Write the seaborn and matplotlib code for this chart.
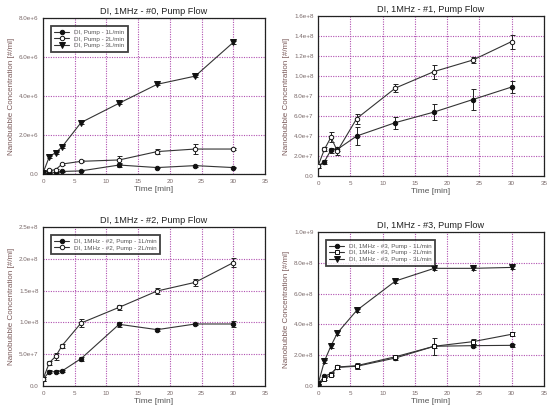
import numpy as np
import pandas as pd
import matplotlib
matplotlib.use("Agg")
import matplotlib.pyplot as plt
import seaborn as sns

time = [0, 1, 2, 3, 6, 12, 18, 24, 30]

# Panel 0 (#0)
p0_labels = ["DI, Pump - 1L/min", "DI, Pump - 2L/min", "DI, Pump - 3L/min"]
p0_1L = [0.05e6, 0.05e6, 0.08e6, 0.13e6, 0.16e6, 0.46e6, 0.33e6, 0.43e6, 0.33e6]
p0_2L = [0.05e6, 0.18e6, 0.22e6, 0.51e6, 0.65e6, 0.72e6, 1.15e6, 1.28e6, 1.28e6]
p0_3L = [0.05e6, 0.89e6, 1.10e6, 1.39e6, 2.64e6, 3.63e6, 4.60e6, 5.02e6, 6.75e6]
p0_err_1L = [0.02e6, 0.02e6, 0.02e6, 0.02e6, 0.03e6, 0.08e6, 0.03e6, 0.05e6, 0.03e6]
p0_err_2L = [0.02e6, 0.05e6, 0.05e6, 0.06e6, 0.05e6, 0.2e6, 0.12e6, 0.25e6, 0.05e6]
p0_err_3L = [0.02e6, 0.05e6, 0.05e6, 0.05e6, 0.06e6, 0.06e6, 0.06e6, 0.06e6, 0.08e6]

# Panel 1 (#1)
p1_1L = [1.0e7, 1.44e7, 2.6e7, 2.67e7, 4.0e7, 5.34e7, 6.4e7, 7.65e7, 8.9e7]
p1_2L = [1.0e7, 2.67e7, 3.87e7, 2.5e7, 5.75e7, 8.8e7, 1.045e8, 1.16e8, 1.345e8]
p1_err_1L = [0.2e7, 0.2e7, 0.25e7, 0.2e7, 0.9e7, 0.6e7, 0.8e7, 1.05e7, 0.6e7]
p1_err_2L = [0.2e7, 0.2e7, 0.5e7, 0.4e7, 0.5e7, 0.4e7, 0.7e7, 0.3e7, 0.7e7]

# Panel 2 (#2)
p2_labels = ["DI, 1MHz - #2, Pump - 1L/min", "DI, 1MHz - #2, Pump - 2L/min"]
p2_1L = [1.05e7, 2.25e7, 2.25e7, 2.36e7, 4.3e7, 9.7e7, 8.86e7, 9.75e7, 9.75e7]
p2_2L = [1.05e7, 3.67e7, 4.66e7, 6.34e7, 9.9e7, 1.237e8, 1.494e8, 1.63e8, 1.94e8]
p2_err_1L = [0.3e7, 0.2e7, 0.2e7, 0.2e7, 0.3e7, 0.4e7, 0.2e7, 0.2e7, 0.4e7]
p2_err_2L = [0.3e7, 0.3e7, 0.5e7, 0.3e7, 0.6e7, 0.4e7, 0.4e7, 0.5e7, 0.7e7]

# Panel 3 (#3)
p3_labels = ["DI, 1MHz - #3, Pump - 1L/min", "DI, 1MHz - #3, Pump - 2L/min", "DI, 1MHz - #3, Pump - 3L/min"]
p3_1L = [1e7, 6.5e7, 8.0e7, 1.21e8, 1.28e8, 1.82e8, 2.58e8, 2.62e8, 2.64e8]
p3_2L = [1e7, 4.5e7, 7.4e7, 1.23e8, 1.32e8, 1.9e8, 2.58e8, 2.88e8, 3.36e8]
p3_3L = [1e7, 1.62e8, 2.6e8, 3.44e8, 4.91e8, 6.82e8, 7.64e8, 7.64e8, 7.7e8]
p3_err_1L = [0.5e7, 0.8e7, 0.8e7, 1.2e7, 1.5e7, 1e7, 1e7, 1e7, 1e7]
p3_err_2L = [0.5e7, 0.8e7, 0.8e7, 1.5e7, 2.0e7, 1e7, 5.5e7, 1.5e7, 1.2e7]
p3_err_3L = [0.5e7, 1e7, 1e7, 1e7, 1e7, 1e7, 1e7, 1e7, 1e7]

sns.set_theme(style="white")
plt.rcParams['font.family'] = ['Liberation Sans', 'DejaVu Sans']

fig = plt.figure(figsize=(5.57, 4.17), dpi=100)
W, H = 557.0, 417.0

def mk_ax(l, r, t, b):
    return fig.add_axes([l / W, 1 - b / H, (r - l) / W, (b - t) / H])

grid_color = "#b050b0"
line_color = "#333333"
tick_color = "#7a6a6a"

def fmt(v):
    mant, ex = ("%.1e" % v).split("e")
    return "%se+%d" % (mant, int(ex))

def style(ax, title, ymax, ystep):
    ax.set_xlim(0, 35)
    ax.set_ylim(0, ymax)
    ax.set_xticks(np.arange(0, 36, 5))
    yt = np.arange(0, ymax + ystep / 2, ystep)
    ax.set_yticks(yt)
    ax.set_yticklabels(["0.0"] + [fmt(v) for v in yt[1:]])
    ax.tick_params(axis="both", labelsize=4.5, colors=tick_color, length=2.5,
                   direction="inout", width=0.6, pad=2)
    ax.grid(True, color=grid_color, linestyle=(0, (1, 1.2)), linewidth=0.8)
    for s in ax.spines.values():
        s.set_color("#222222")
        s.set_linewidth(0.9)
    ax.set_title(title, fontsize=6.6, color="#222222", pad=3)
    ax.set_xlabel("Time [min]", fontsize=6, color="#555555", labelpad=2)
    ax.set_ylabel("Nanobubble Concentration [#/ml]", fontsize=5.8, color="#7a5a5a", labelpad=3)

def draw(ax, ys, errs, labels, markers, fills, legend):
    for y, e, lab, m, f in zip(ys, errs, labels, markers, fills):
        df = pd.DataFrame({"Time": time, "Conc": y})
        ax.errorbar(time, y, yerr=e, fmt="none", ecolor="#222222", elinewidth=0.7,
                    capsize=1.8, capthick=0.7, zorder=3)
        sns.lineplot(data=df, x="Time", y="Conc", ax=ax, color=line_color, linewidth=0.8,
                     marker=m, markersize=3.2 if m != "v" else 3.8,
                     markerfacecolor=("#111111" if f else "white"),
                     markeredgecolor="#111111", markeredgewidth=0.7,
                     label=lab, zorder=4)
    if legend:
        leg = ax.legend(loc="upper left", fontsize=4.5, frameon=True, fancybox=False,
                        edgecolor="#111111", handlelength=2.3, borderpad=0.6,
                        labelspacing=0.2, bbox_to_anchor=(0.02, 0.97))
        leg.get_frame().set_linewidth(1.3)
        for t in leg.get_texts():
            t.set_color("#555555")
    else:
        lg = ax.get_legend()
        if lg is not None:
            lg.remove()

ax0 = mk_ax(43, 265, 18, 174)
draw(ax0, [p0_1L, p0_2L, p0_3L], [p0_err_1L, p0_err_2L, p0_err_3L], p0_labels,
     ["o", "o", "v"], [True, False, True], True)
style(ax0, "DI, 1MHz - #0, Pump Flow", 8e6, 2e6)

ax1 = mk_ax(318, 544, 16, 176)
draw(ax1, [p1_1L, p1_2L], [p1_err_1L, p1_err_2L], ["1L", "2L"],
     ["o", "o"], [True, False], False)
style(ax1, "DI, 1MHz - #1, Pump Flow", 1.6e8, 2e7)

ax2 = mk_ax(43, 265, 227, 386)
draw(ax2, [p2_1L, p2_2L], [p2_err_1L, p2_err_2L], p2_labels,
     ["o", "o"], [True, False], True)
style(ax2, "DI, 1MHz - #2, Pump Flow", 2.5e8, 5e7)

ax3 = mk_ax(318, 544, 232, 386)
draw(ax3, [p3_1L, p3_2L, p3_3L], [p3_err_1L, p3_err_2L, p3_err_3L], p3_labels,
     ["o", "s", "v"], [True, False, True], True)
style(ax3, "DI, 1MHz - #3, Pump Flow", 1.0e9, 2e8)

fig.savefig("out.png", dpi=100, facecolor="white")
